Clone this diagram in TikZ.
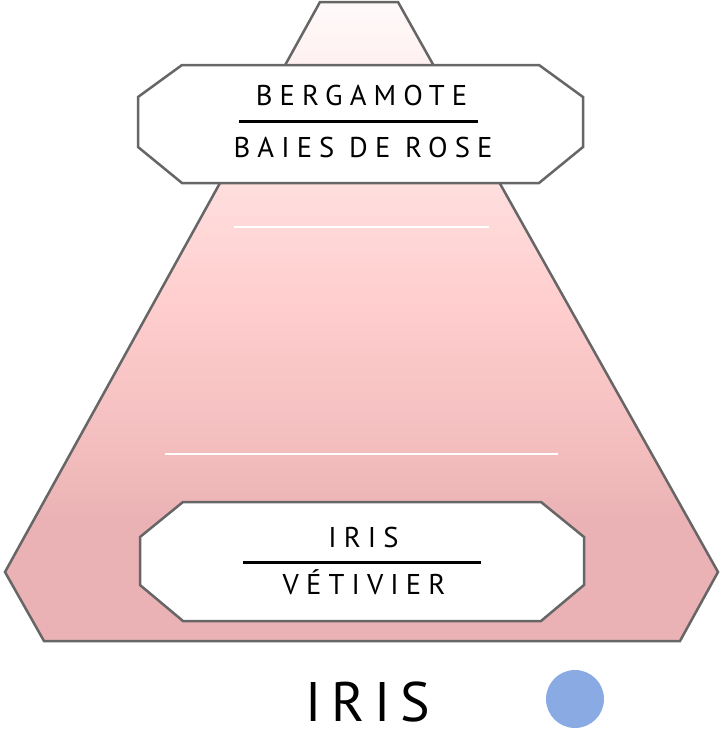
\documentclass[tikz,border=0pt]{standalone}
\usepackage{fontspec}
\setmainfont{PT Sans}
\definecolor{edge}{RGB}{102,102,102}
\definecolor{pkA}{RGB}{255,250,250}
\definecolor{pkB}{RGB}{255,222,222}
\definecolor{pkC}{RGB}{255,206,206}
\definecolor{pkD}{RGB}{243,189,190}
\definecolor{pkE}{RGB}{234,178,180}
\definecolor{dotblue}{RGB}{138,170,228}
\pgfdeclareverticalshading{pyr}{100bp}{color(0bp)=(pkE); color(25bp)=(pkE); color(34.5bp)=(pkE); color(40bp)=(pkD); color(51.7bp)=(pkC); color(60.8bp)=(pkB); color(75bp)=(pkA); color(100bp)=(pkA)}
\newfontfamily\boxfont[LetterSpace=25]{PT Sans}
\newfontfamily\titlefont[LetterSpace=18]{PT Sans}
\tikzset{
  outline/.style={draw=edge, line width=2.5pt, line join=miter},
  label/.style={fill=white, outline},
  noteline/.style={anchor=base, inner sep=0pt, font=\boxfont\fontsize{28.6}{30}\selectfont},
  rule/.style={black, line width=3pt},
  gap/.style={white, line width=2.5pt}
}
\begin{document}
\begin{tikzpicture}[x=1pt,y=-1pt]
\useasboundingbox (0,0) rectangle (722,736);
% pyramid
\path[shading=pyr, outline] (320,2) -- (398,2) -- (718,572) -- (680,641) -- (44,641) -- (5,572) -- cycle;
% white separators
\coordinate (g1a) at (234,227); \coordinate (g1b) at (489,227);
\coordinate (g2a) at (165,454); \coordinate (g2b) at (558,454);
\draw[gap] (g1a) -- (g1b);
\draw[gap] (g2a) -- (g2b);
% top label
\path[label] (182,65) -- (539,65) -- (583,97) -- (583,147) -- (539,183) -- (182,183) -- (138,147) -- (138,97) -- cycle;
\node[noteline] (berg) at (361.5,105) {BERGAMOTE};
\coordinate (r1a) at (239,121); \coordinate (r1b) at (478,121);
\draw[rule] (r1a) -- (r1b);
\node[noteline] (baies) at (363,157) {BAIES DE ROSE};
% bottom label
\path[label] (183,502) -- (541,502) -- (584,537) -- (584,585) -- (541,621) -- (183,621) -- (140,585) -- (140,537) -- cycle;
\node[noteline] (iris) at (363.5,547) {IRIS};
\coordinate (r2a) at (243,562); \coordinate (r2b) at (481,562);
\draw[rule] (r2a) -- (r2b);
\node[noteline] (vet) at (364,594) {VÉTIVIER};
% title
\node[anchor=base, inner sep=0pt, font=\titlefont\fontsize{55.7}{60}\selectfont] (title) at (368,721) {IRIS};
\fill[dotblue] (575,699) circle[radius=29];
\end{tikzpicture}
\end{document}
